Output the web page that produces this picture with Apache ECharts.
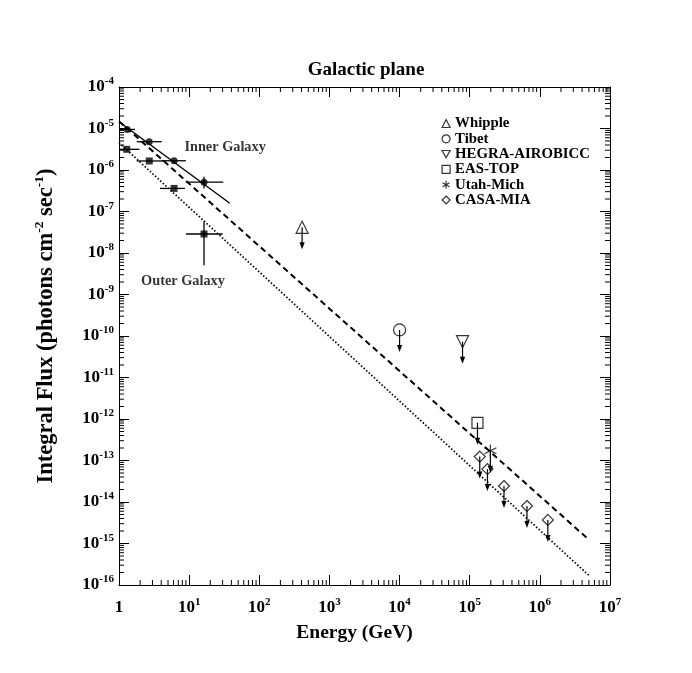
<!DOCTYPE html>
<html>
<head>
<meta charset="utf-8">
<title>Galactic plane</title>
<script src="https://cdn.jsdelivr.net/npm/echarts@6/dist/echarts.min.js"></script>
<style>
  html, body { margin: 0; padding: 0; background: #fff; }
  #chart { width: 692px; height: 673px; }
</style>
</head>
<body>
<div id="chart"></div>
<script>
// values: energy in GeV, integral flux in photons cm^-2 sec^-1

// inner galaxy (filled circles) with energy bins / flux errors
const innerE = [1.31, 2.7, 6.1, 16.3]
const innerF = [9.5e-6, 4.8e-6, 1.67e-6, 5.1e-7]
const innerELo = [1.03, 1.79, 4.06, 9.0]
const innerEHi = [1.69, 4.06, 9.0, 30.6]
const innerFLo = [9.5e-6, 4.8e-6, 1.67e-6, 3.6e-7]
const innerFHi = [9.5e-6, 4.8e-6, 1.67e-6, 6.9e-7]

// outer galaxy (filled squares)
const outerE = [1.29, 2.7, 6.1, 16.3]
const outerF = [3.15e-6, 1.65e-6, 3.6e-7, 2.87e-8]
const outerELo = [1.0, 1.79, 3.84, 9.0]
const outerEHi = [1.95, 4.28, 8.7, 30]
const outerFLo = [3.15e-6, 1.65e-6, 3.6e-7, 5.1e-9]
const outerFHi = [3.15e-6, 1.65e-6, 3.6e-7, 5.7e-8]

// upper limits
const whippleE = [408]
const whippleF = [4.16e-8]
const tibetE = [1.0e4]
const tibetF = [1.4e-10]
const hegraE = [7.9e4]
const hegraF = [7.3e-11]
const eastopE = [1.29e5]
const eastopF = [8.1e-13]
const utahE = [1.97e5]
const utahF = [1.72e-13]
const casaE = [1.39e5, 1.79e5, 3.08e5, 6.55e5, 1.3e6]
const casaF = [1.24e-13, 6.2e-14, 2.43e-14, 8.0e-15, 3.7e-15]

// model lines (two end points each)
const solidE = [1, 38]
const solidF = [1.45e-5, 1.58e-7]
const dashedE = [1, 5.1e6]
const dashedF = [1.5e-5, 1.2e-15]
const dottedE = [1, 5.1e6]
const dottedF = [4.54e-6, 1.65e-16]

// text annotations (anchor = left/middle of text)
const noteText = ['Inner Galaxy', 'Outer Galaxy']
const noteE = [8.7, 2.1]
const noteF = [3.4e-6, 2.0e-9]

// axes
const xMinExp = 0, xMaxExp = 7
const yMinExp = -16, yMaxExp = -4

const SERIF = 'Liberation Serif, DejaVu Serif, serif'
const BLACK = '#000'

const zip = (a, b) => a.map((v, i) => [v, b[i]])

function supLabel(v) {
  const n = Math.round(Math.log10(v))
  if (n === 0) return '{b|1}'
  return '{b|10}{s|' + n + '}'
}

const richSup = {
  b: { fontFamily: SERIF, fontWeight: 'bold', fontSize: 17, lineHeight: 22, color: BLACK },
  s: { fontFamily: SERIF, fontWeight: 'bold', fontSize: 11, lineHeight: 12, verticalAlign: 'top', color: BLACK }
}

function errData(e, f, elo, ehi, flo, fhi) {
  return e.map((v, i) => [v, f[i], elo[i], ehi[i], flo[i], fhi[i]])
}

function renderErrBar(params, api) {
  const e = api.value(0), f = api.value(1)
  const p = api.coord([e, f])
  const l = api.coord([api.value(2), f])
  const r = api.coord([api.value(3), f])
  const lo = api.coord([e, api.value(4)])
  const hi = api.coord([e, api.value(5)])
  const st = { stroke: BLACK, lineWidth: 1.3 }
  return {
    type: 'group',
    children: [
      { type: 'line', shape: { x1: l[0], y1: p[1], x2: r[0], y2: p[1] }, style: st },
      { type: 'line', shape: { x1: p[0], y1: hi[1], x2: p[0], y2: lo[1] }, style: st }
    ]
  }
}

// down arrow for upper limits
function renderArrow(params, api) {
  const p = api.coord([api.value(0), api.value(1)])
  const len = 22
  return {
    type: 'group',
    children: [
      { type: 'line', shape: { x1: p[0], y1: p[1], x2: p[0], y2: p[1] + len - 3 }, style: { stroke: BLACK, lineWidth: 1.2 } },
      { type: 'polygon', shape: { points: [[p[0] - 2.6, p[1] + len - 7], [p[0] + 2.6, p[1] + len - 7], [p[0], p[1] + len]] }, style: { fill: BLACK } }
    ]
  }
}

// log minor ticks (2..9) on all four sides
function renderMinorTicks(params, api) {
  const cs = params.coordSys
  const top = cs.y, bottom = cs.y + cs.height, left = cs.x, right = cs.x + cs.width
  const st = { stroke: BLACK, lineWidth: 1 }
  const kids = []
  for (let d = xMinExp; d < xMaxExp; d++) {
    for (let m = 2; m <= 9; m++) {
      const x = api.coord([m * Math.pow(10, d), 1e-10])[0]
      kids.push({ type: 'line', shape: { x1: x, y1: bottom, x2: x, y2: bottom - 5 }, style: st })
      kids.push({ type: 'line', shape: { x1: x, y1: top, x2: x, y2: top + 5 }, style: st })
    }
  }
  for (let d = yMinExp; d < yMaxExp; d++) {
    for (let m = 2; m <= 9; m++) {
      const y = api.coord([10, m * Math.pow(10, d)])[1]
      kids.push({ type: 'line', shape: { x1: left, y1: y, x2: left + 5, y2: y }, style: st })
      kids.push({ type: 'line', shape: { x1: right, y1: y, x2: right - 5, y2: y }, style: st })
    }
  }
  return { type: 'group', children: kids }
}

const hollow = { color: 'transparent', borderColor: BLACK, borderWidth: 1.2 }
const SYM = {
  whipple: 'triangle',
  tibet: 'circle',
  hegra: 'path://M0,0L10,0L5,9Z',
  eastop: 'rect',
  utah: 'path://M5,0L5,10M0.67,2.5L9.33,7.5M0.67,7.5L9.33,2.5',
  casa: 'diamond'
}

function limitSeries(name, e, f, symbol, size) {
  return {
    name: name,
    type: 'scatter',
    symbol: symbol,
    symbolSize: size,
    itemStyle: hollow,
    data: zip(e, f),
    z: 5
  }
}

const logX = (pos, labels) => ({
  type: 'log',
  logBase: 10,
  position: pos,
  min: Math.pow(10, xMinExp),
  max: Math.pow(10, xMaxExp),
  interval: 1,
  splitNumber: xMaxExp - xMinExp,
  axisLine: { lineStyle: { color: BLACK, width: 1 } },
  axisTick: { inside: true, length: 10, lineStyle: { color: BLACK } },
  splitLine: { show: false },
  axisLabel: labels ? { show: true, margin: 12, formatter: supLabel, rich: richSup } : { show: false }
})

const logY = (pos, labels) => ({
  type: 'log',
  logBase: 10,
  position: pos,
  min: Math.pow(10, yMinExp),
  max: Math.pow(10, yMaxExp),
  interval: 1,
  splitNumber: yMaxExp - yMinExp,
  axisLine: { lineStyle: { color: BLACK, width: 1 } },
  axisTick: { inside: true, length: 10, lineStyle: { color: BLACK } },
  splitLine: { show: false },
  axisLabel: labels ? { show: true, margin: 5, formatter: supLabel, rich: richSup } : { show: false }
})

const xBottom = logX('bottom', true)
xBottom.name = 'Energy (GeV)'
xBottom.nameLocation = 'middle'
xBottom.nameGap = 38
xBottom.nameTextStyle = { fontFamily: SERIF, fontWeight: 'bold', fontSize: 19.5, color: BLACK, padding: [0, 20, 0, 0] }

const yLeft = logY('left', true)
yLeft.name = 'Integral Flux (photons cm{s|-2} sec{s|-1})'
yLeft.nameLocation = 'middle'
yLeft.nameGap = 60
yLeft.nameTextStyle = {
  fontFamily: SERIF, fontWeight: 'bold', fontSize: 22.5, lineHeight: 26, color: BLACK,
  padding: [0, 0, 0, 20],
  rich: {
    s: { fontFamily: SERIF, fontWeight: 'bold', fontSize: 13.5, lineHeight: 12, verticalAlign: 'top', color: BLACK }
  }
}

const chart = echarts.init(document.getElementById('chart'))

const legendNames = ['Whipple', 'Tibet', 'HEGRA-AIROBICC', 'EAS-TOP', 'Utah-Mich', 'CASA-MIA']
const legendIcons = [SYM.whipple, SYM.tibet, SYM.hegra, SYM.eastop, SYM.utah, SYM.casa]

chart.setOption({
  animation: false,
  backgroundColor: '#fff',
  title: {
    text: 'Galactic plane',
    left: 366,
    top: 61,
    padding: 0,
    textAlign: 'center',
    textStyle: { fontFamily: SERIF, fontWeight: 'bold', fontSize: 19, color: BLACK }
  },
  legend: {
    orient: 'vertical',
    left: 441.5,
    top: 116,
    padding: 0,
    itemWidth: 8,
    itemHeight: 8,
    itemGap: 0.3,
    itemTextGap: 2,
    selectedMode: false,
    textStyle: { fontFamily: SERIF, fontWeight: 'bold', fontSize: 14.8, lineHeight: 15, color: BLACK },
    data: legendNames.map((n, i) => ({ name: n, icon: legendIcons[i], itemStyle: hollow }))
  },
  grid: { left: 119, right: 82, top: 87, bottom: 88, containLabel: false },
  xAxis: [xBottom, logX('top', false)],
  yAxis: [yLeft, logY('right', false)],
  series: [
    {
      type: 'custom',
      renderItem: renderMinorTicks,
      data: [[10, 1e-10]],
      encode: { x: 0, y: 1 },
      silent: true,
      z: 1
    },
    {
      name: 'solid', type: 'line', data: zip(solidE, solidF), symbol: 'none',
      lineStyle: { color: BLACK, width: 1.4 }, z: 2
    },
    {
      name: 'dashed', type: 'line', data: zip(dashedE, dashedF), symbol: 'none',
      lineStyle: { color: BLACK, width: 2, type: [6, 4] }, z: 2
    },
    {
      name: 'dotted', type: 'line', data: zip(dottedE, dottedF), symbol: 'none',
      lineStyle: { color: BLACK, width: 1.7, type: [1.5, 2] }, z: 2
    },
    {
      type: 'custom',
      renderItem: renderErrBar,
      data: errData(innerE, innerF, innerELo, innerEHi, innerFLo, innerFHi)
        .concat(errData(outerE, outerF, outerELo, outerEHi, outerFLo, outerFHi)),
      encode: { x: 0, y: 1 },
      z: 3
    },
    {
      name: 'Inner', type: 'scatter', symbol: 'circle', symbolSize: 7,
      itemStyle: { color: BLACK }, data: zip(innerE, innerF), z: 4
    },
    {
      name: 'Outer', type: 'scatter', symbol: 'rect', symbolSize: 7,
      itemStyle: { color: BLACK }, data: zip(outerE, outerF), z: 4
    },
    {
      type: 'custom',
      renderItem: renderArrow,
      data: zip(whippleE, whippleF).concat(zip(tibetE, tibetF), zip(hegraE, hegraF),
        zip(eastopE, eastopF), zip(utahE, utahF), zip(casaE, casaF)),
      encode: { x: 0, y: 1 },
      z: 4
    },
    limitSeries('Whipple', whippleE, whippleF, SYM.whipple, 12),
    limitSeries('Tibet', tibetE, tibetF, SYM.tibet, 12),
    limitSeries('HEGRA-AIROBICC', hegraE, hegraF, SYM.hegra, 12),
    limitSeries('EAS-TOP', eastopE, eastopF, SYM.eastop, 11),
    limitSeries('Utah-Mich', utahE, utahF, SYM.utah, 12),
    limitSeries('CASA-MIA', casaE, casaF, SYM.casa, 11),
    {
      name: 'notes', type: 'scatter', symbolSize: 1,
      itemStyle: { color: 'transparent' },
      data: noteE.map((e, i) => [e, noteF[i], noteText[i]]),
      label: {
        show: true, position: [0, 0], align: 'left', verticalAlign: 'middle',
        formatter: p => p.data[2],
        fontFamily: SERIF, fontWeight: 'bold', fontSize: 14.3, color: BLACK
      },
      silent: true, z: 6
    }
  ]
})
</script>
</body>
</html>
